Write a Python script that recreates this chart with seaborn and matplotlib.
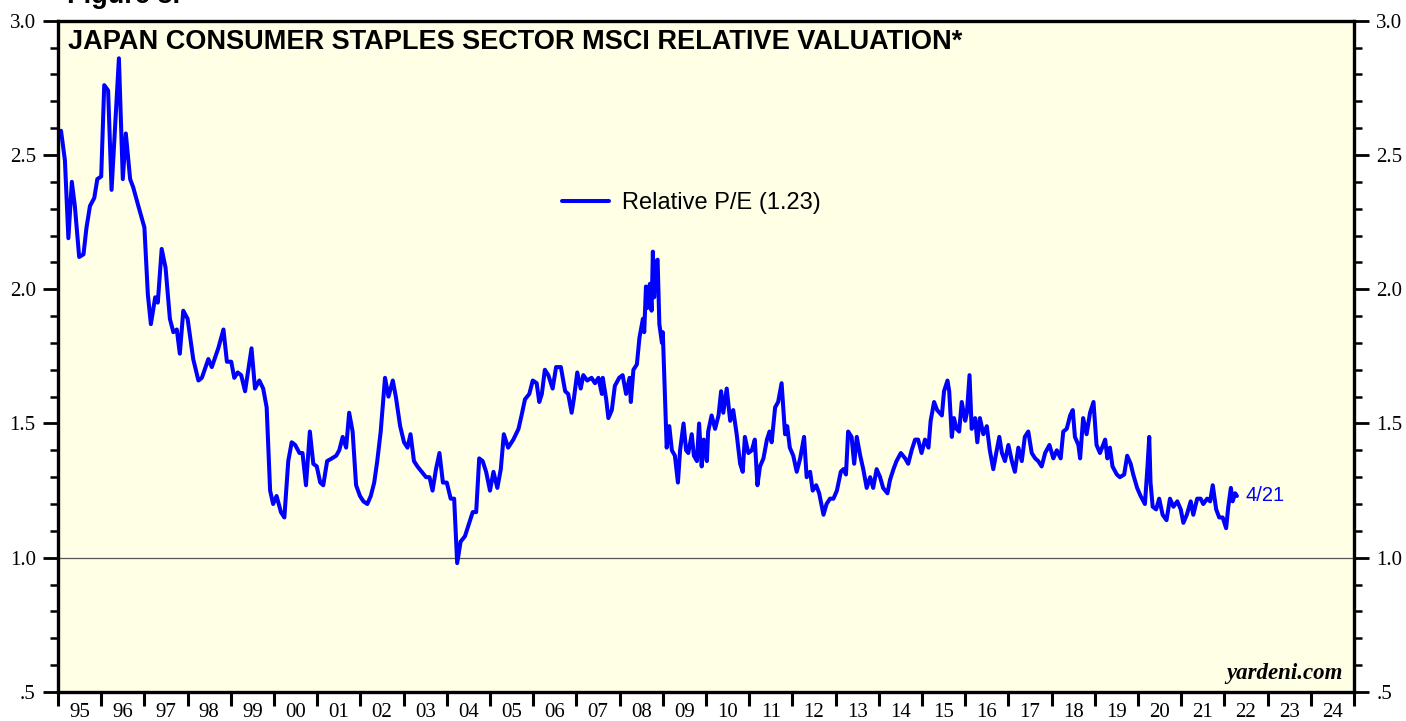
import numpy as np
import pandas as pd
import matplotlib
matplotlib.use('Agg')
import matplotlib.pyplot as plt
import matplotlib.ticker as mticker
import seaborn as sns

# relative P/E (decimal years)
yr_95_04 = [1995.07, 1995.16, 1995.24, 1995.32, 1995.39, 1995.49, 1995.59, 1995.66, 1995.74, 1995.84,
            1995.91, 1996.00, 1996.07, 1996.16, 1996.24, 1996.41, 1996.50, 1996.57, 1996.67, 1996.74,
            1996.86, 1997.00, 1997.08, 1997.15, 1997.25, 1997.31, 1997.40, 1997.49, 1997.59, 1997.67,
            1997.75, 1997.82, 1997.90, 1998.00, 1998.13, 1998.25, 1998.33, 1998.48, 1998.56, 1998.71,
            1998.83, 1998.91, 1999.01, 1999.08, 1999.16, 1999.24, 1999.33, 1999.48, 1999.56, 1999.66,
            1999.75, 1999.83, 1999.91, 1999.98, 2000.06, 2000.16, 2000.24, 2000.33, 2000.41, 2000.49,
            2000.59, 2000.66, 2000.74, 2000.83, 2000.91, 2000.99, 2001.07, 2001.14, 2001.23, 2001.34,
            2001.44, 2001.51, 2001.59, 2001.67, 2001.74, 2001.82, 2001.90, 2001.99, 2002.07, 2002.16,
            2002.24, 2002.32, 2002.39, 2002.47, 2002.57, 2002.65, 2002.75, 2002.82, 2002.92, 2003.01,
            2003.09, 2003.16, 2003.24, 2003.32, 2003.42, 2003.52, 2003.60, 2003.67, 2003.75, 2003.83,
            2003.91, 2004.00, 2004.09, 2004.17, 2004.24, 2004.32, 2004.42, 2004.50, 2004.60, 2004.68,
            2004.75, 2004.83, 2004.91]
pe_95_04 = [2.59, 2.48, 2.19, 2.40, 2.31, 2.12, 2.13, 2.23, 2.31, 2.34,
            2.41, 2.42, 2.76, 2.74, 2.37, 2.86, 2.41, 2.58, 2.41, 2.38,
            2.31, 2.23, 1.98, 1.87, 1.97, 1.95, 2.15, 2.08, 1.89, 1.84,
            1.85, 1.76, 1.92, 1.89, 1.74, 1.66, 1.67, 1.74, 1.71, 1.78,
            1.85, 1.73, 1.73, 1.67, 1.69, 1.68, 1.62, 1.78, 1.63, 1.66,
            1.63, 1.56, 1.25, 1.20, 1.23, 1.17, 1.15, 1.36, 1.43, 1.42,
            1.39, 1.39, 1.27, 1.47, 1.35, 1.34, 1.28, 1.27, 1.36, 1.37,
            1.38, 1.40, 1.45, 1.41, 1.54, 1.47, 1.27, 1.23, 1.21, 1.20,
            1.23, 1.28, 1.36, 1.47, 1.67, 1.60, 1.66, 1.60, 1.49, 1.43,
            1.41, 1.46, 1.36, 1.34, 1.32, 1.30, 1.30, 1.25, 1.33, 1.39,
            1.28, 1.28, 1.22, 1.22, 0.98, 1.06, 1.08, 1.12, 1.17, 1.17,
            1.37, 1.36, 1.32]

yr_05_13 = [2005.00, 2005.08, 2005.17, 2005.25, 2005.32, 2005.42, 2005.54, 2005.66, 2005.73, 2005.81,
            2005.91, 2005.99, 2006.08, 2006.14, 2006.20, 2006.27, 2006.35, 2006.45, 2006.53, 2006.64,
            2006.74, 2006.81, 2006.89, 2006.94, 2007.02, 2007.10, 2007.16, 2007.25, 2007.35, 2007.43,
            2007.51, 2007.59, 2007.61, 2007.69, 2007.74, 2007.82, 2007.89, 2007.99, 2008.07, 2008.15,
            2008.23, 2008.26, 2008.32, 2008.40, 2008.46, 2008.54, 2008.57, 2008.61, 2008.64, 2008.70,
            2008.74, 2008.77, 2008.80, 2008.84, 2008.88, 2008.92, 2008.98, 2009.00, 2009.03, 2009.09,
            2009.15, 2009.21, 2009.28, 2009.35, 2009.40, 2009.48, 2009.54, 2009.59, 2009.67, 2009.72,
            2009.79, 2009.84, 2009.90, 2009.95, 2010.02, 2010.05, 2010.13, 2010.21, 2010.29, 2010.35,
            2010.40, 2010.48, 2010.56, 2010.63, 2010.71, 2010.79, 2010.85, 2010.90, 2010.98, 2011.06,
            2011.13, 2011.19, 2011.25, 2011.33, 2011.41, 2011.47, 2011.52, 2011.60, 2011.67, 2011.75,
            2011.83, 2011.88, 2011.94, 2012.02, 2012.10, 2012.18, 2012.27, 2012.33, 2012.41, 2012.47,
            2012.55, 2012.62, 2012.72, 2012.79, 2012.87, 2012.95, 2013.03, 2013.12, 2013.18, 2013.24,
            2013.29, 2013.37, 2013.43, 2013.49, 2013.57, 2013.64, 2013.72, 2013.80, 2013.87, 2013.95]
pe_05_13 = [1.25, 1.32, 1.26, 1.33, 1.46, 1.41, 1.44, 1.48, 1.53, 1.59,
            1.61, 1.66, 1.65, 1.58, 1.61, 1.70, 1.68, 1.63, 1.71, 1.71,
            1.62, 1.61, 1.54, 1.59, 1.69, 1.63, 1.68, 1.66, 1.67, 1.65,
            1.67, 1.61, 1.67, 1.59, 1.52, 1.55, 1.64, 1.67, 1.68, 1.61,
            1.67, 1.58, 1.70, 1.72, 1.82, 1.89, 1.84, 2.01, 1.93, 2.02,
            1.92, 2.14, 1.97, 2.10, 2.11, 1.87, 1.80, 1.84, 1.70, 1.41,
            1.49, 1.40, 1.38, 1.28, 1.40, 1.50, 1.40, 1.39, 1.46, 1.38,
            1.36, 1.50, 1.34, 1.44, 1.36, 1.47, 1.53, 1.48, 1.53, 1.62,
            1.54, 1.63, 1.51, 1.55, 1.46, 1.35, 1.32, 1.45, 1.39, 1.40,
            1.44, 1.27, 1.34, 1.37, 1.44, 1.47, 1.43, 1.56, 1.58, 1.65,
            1.46, 1.49, 1.41, 1.38, 1.32, 1.37, 1.45, 1.30, 1.32, 1.25,
            1.27, 1.24, 1.16, 1.20, 1.22, 1.22, 1.25, 1.32, 1.33, 1.31,
            1.47, 1.45, 1.35, 1.45, 1.38, 1.33, 1.26, 1.30, 1.26, 1.33]

yr_14_22 = [2014.03, 2014.10, 2014.20, 2014.26, 2014.34, 2014.41, 2014.51, 2014.61, 2014.68, 2014.76,
            2014.84, 2014.91, 2014.99, 2015.07, 2015.15, 2015.20, 2015.28, 2015.35, 2015.46, 2015.51,
            2015.59, 2015.63, 2015.69, 2015.74, 2015.80, 2015.86, 2015.92, 2016.00, 2016.04, 2016.10,
            2016.15, 2016.23, 2016.28, 2016.34, 2016.42, 2016.50, 2016.57, 2016.65, 2016.73, 2016.79,
            2016.85, 2016.92, 2017.00, 2017.08, 2017.15, 2017.23, 2017.31, 2017.38, 2017.46, 2017.54,
            2017.62, 2017.69, 2017.77, 2017.85, 2017.95, 2018.04, 2018.12, 2018.21, 2018.27, 2018.35,
            2018.43, 2018.49, 2018.54, 2018.62, 2018.66, 2018.73, 2018.81, 2018.89, 2018.97, 2019.04,
            2019.12, 2019.24, 2019.29, 2019.35, 2019.41, 2019.51, 2019.58, 2019.68, 2019.75, 2019.83,
            2019.89, 2019.98, 2020.06, 2020.16, 2020.22, 2020.26, 2020.29, 2020.34, 2020.42, 2020.49,
            2020.57, 2020.66, 2020.74, 2020.82, 2020.91, 2020.99, 2021.05, 2021.13, 2021.22, 2021.28,
            2021.37, 2021.45, 2021.51, 2021.60, 2021.67, 2021.73, 2021.81, 2021.88, 2021.96, 2022.04,
            2022.09, 2022.15, 2022.19, 2022.25, 2022.29]
pe_14_22 = [1.30, 1.26, 1.24, 1.29, 1.33, 1.36, 1.39, 1.37, 1.35, 1.40,
            1.44, 1.44, 1.39, 1.44, 1.41, 1.51, 1.58, 1.55, 1.53, 1.62,
            1.66, 1.62, 1.45, 1.52, 1.48, 1.47, 1.58, 1.51, 1.54, 1.68,
            1.48, 1.52, 1.43, 1.52, 1.46, 1.49, 1.40, 1.33, 1.40, 1.45,
            1.39, 1.36, 1.42, 1.36, 1.32, 1.41, 1.36, 1.45, 1.47, 1.39,
            1.37, 1.36, 1.34, 1.39, 1.42, 1.37, 1.40, 1.37, 1.47, 1.48,
            1.53, 1.55, 1.45, 1.42, 1.37, 1.52, 1.46, 1.54, 1.58, 1.42,
            1.39, 1.44, 1.37, 1.41, 1.34, 1.31, 1.30, 1.31, 1.38, 1.35,
            1.31, 1.26, 1.23, 1.20, 1.34, 1.45, 1.28, 1.19, 1.18, 1.22,
            1.16, 1.14, 1.22, 1.19, 1.21, 1.18, 1.13, 1.16, 1.21, 1.16,
            1.22, 1.22, 1.20, 1.22, 1.21, 1.27, 1.18, 1.15, 1.15, 1.11,
            1.19, 1.26, 1.21, 1.24, 1.23]

year_labels = [f'{y % 100:02d}' for y in range(1995, 2025)]
legend_label = 'Relative P/E (1.23)'
last_label = '4/21'

df = pd.DataFrame({'year': yr_95_04 + yr_05_13 + yr_14_22,
                   'pe': pe_95_04 + pe_05_13 + pe_14_22})

sns.set_theme(style='ticks')
plt.rcParams['font.family'] = ['Liberation Serif', 'DejaVu Serif']

fig = plt.figure(figsize=(14.06, 7.21), dpi=100)
ax = fig.add_axes([58 / 1406, 29 / 721, 1296 / 1406, 671.3 / 721])
ax.set_facecolor('#ffffe6')

sns.lineplot(data=df, x='year', y='pe', ax=ax, color='#0000ff', linewidth=2.9,
             sort=False, estimator=None, label=legend_label)
ax.axhline(1.0, color='#555555', linewidth=0.9, zorder=1)

ax.set_xlim(1995, 2025)
ax.set_ylim(0.5, 3.0)
ax.set_xlabel('')
ax.set_ylabel('')

# x: year boundaries as ticks, labels centred in each year
ax.xaxis.set_major_locator(mticker.FixedLocator(np.arange(1995, 2026)))
ax.xaxis.set_minor_locator(mticker.FixedLocator(np.arange(1995, 2025) + 0.5))
ax.xaxis.set_major_formatter(mticker.NullFormatter())
ax.xaxis.set_minor_formatter(mticker.FixedFormatter(year_labels))
ax.tick_params(axis='x', which='major', direction='out', length=10, width=2.2, color='black')
ax.tick_params(axis='x', which='minor', length=0, pad=8, labelsize=15, labelcolor='black')

ax.yaxis.set_major_locator(mticker.MultipleLocator(0.5))
ax.yaxis.set_minor_locator(mticker.MultipleLocator(0.1))
ax.yaxis.set_major_formatter(mticker.FuncFormatter(
    lambda v, p: '.5' if abs(v - 0.5) < 1e-6 else f'{v:.1f}'))
ax.tick_params(axis='y', which='both', left=True, right=True,
               labelleft=True, labelright=True, direction='out', color='black')
ax.tick_params(axis='y', which='major', length=11, width=2.0, pad=5, labelsize=15, labelcolor='black')
ax.tick_params(axis='y', which='minor', length=6, width=1.8)

for s in ax.spines.values():
    s.set_visible(True)
    s.set_color('black')
    s.set_linewidth(2.4)

ax.text(0.0077, 0.988, 'JAPAN CONSUMER STAPLES SECTOR MSCI RELATIVE VALUATION*',
        transform=ax.transAxes, ha='left', va='top', fontsize=19.5,
        fontweight='bold', family='Liberation Sans', color='black')
fig.text(0.048, 0.996, 'Figure 8.', ha='left', va='baseline', fontsize=19.5,
         fontweight='bold', family='Liberation Sans', color='black')

ax.text(0.9915, 0.012, 'yardeni.com', transform=ax.transAxes, ha='right', va='bottom',
        fontsize=16.5, fontweight='bold', fontstyle='italic', color='black')

leg = ax.legend(loc='center left', bbox_to_anchor=(0.389, 0.728), frameon=False,
                borderaxespad=0, borderpad=0, handlelength=2.0, handletextpad=0.55,
                prop={'family': 'Liberation Sans', 'size': 17})
for t in leg.get_texts():
    t.set_color('black')

ax.annotate(last_label, xy=(df['year'].iloc[-1], df['pe'].iloc[-1]), xytext=(6, 0),
            textcoords='offset points', ha='left', va='center', color='#0000ff',
            fontsize=14.5, family='Liberation Sans')

fig.savefig('out.png', dpi=100, facecolor='white')
